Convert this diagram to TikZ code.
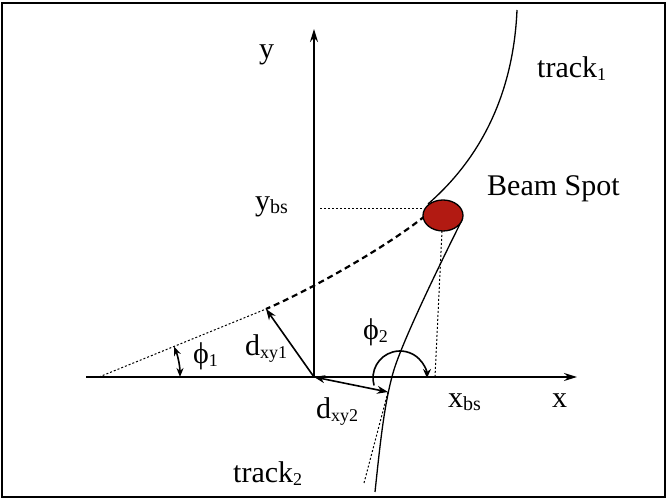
\documentclass[tikz,border=0pt]{standalone}
\usepackage{fontspec}
\setmainfont{Liberation Serif}
\usetikzlibrary{arrows.meta,shapes.geometric}
\definecolor{spotred}{RGB}{178,26,18}
\newcommand{\sbs}[1]{\raisebox{-3pt}{\fontsize{20}{22}\selectfont #1}}
\newcommand{\sbn}[1]{\raisebox{-3pt}{\fontsize{18}{20}\selectfont #1}}
\begin{document}
\begin{tikzpicture}[x=1pt,y=1pt,
  axis/.style={line width=1.7pt,-{Stealth[length=13pt,width=8pt]}},
  trk/.style={line width=1.3pt},
  dsh/.style={line width=2.2pt, dash pattern=on 6pt off 4pt},
  dot/.style={line width=1pt, dash pattern=on 2pt off 2pt},
  vec/.style={line width=1.6pt,-{Stealth[length=11pt,width=8pt]}},
  angarr/.style={line width=1.6pt},
  txt/.style={anchor=base west, inner sep=0pt, font=\fontsize{30}{34}\selectfont}]
\useasboundingbox (0,0) rectangle (667,500);
\draw[line width=1.2pt] (2,3) rectangle (665,497);
% coordinates
\coordinate (O) at (314,123);
\coordinate (xs) at (86,123);
\coordinate (xe) at (577,123);
\coordinate (ye) at (314,471);
\coordinate (T1) at (99,123);
\coordinate (P1) at (266,191);
\coordinate (P2) at (388,108);
\coordinate (T2) at (364,17);
\coordinate (A1) at (517,490);
\coordinate (B1) at (428,296);
\coordinate (C1) at (425,284);
\coordinate (A2) at (375,8);
\coordinate (M2) at (393,127);
\coordinate (E2) at (462,280);
% track 1
\draw[trk] (A1) .. controls (514,420) and (490,350) .. (B1);
\draw[dsh] (C1) .. controls (385,252) and (310,210) .. (P1);
% track 2
\draw[trk] (A2) .. controls (380,55) and (384,95) .. (M2) .. controls (402,159) and (445,246) .. (E2);
% tangents
\draw[dot] (T1) -- (P1);
\draw[dot] (T2) -- (P2);
% axes
\draw[axis] (xs) -- (xe);
\draw[axis] (O) -- (ye);
% beam spot projections
\draw[dot] (320,291) -- (424,291);
\draw[dot] (442,269) -- (435,123);
% beam spot
\node[draw, line width=1.3pt, fill=spotred, ellipse, minimum width=40pt, minimum height=31pt, inner sep=0pt] (bs) at (443,284.5) {};
% impact parameters
\draw[vec] (O) -- (P1);
\draw[line width=1.6pt,{Stealth[length=11pt,width=8pt]}-{Stealth[length=11pt,width=8pt]}] (O) -- (P2);
% angles
\draw[angarr,{Stealth[length=9pt,width=7pt]}-{Stealth[length=9pt,width=7pt]}] (180,123) arc[start angle=0,end angle=22,radius=81];
\draw[angarr,-{Stealth[length=9pt,width=8pt]}] (374.05,114.56) arc[start angle=196,end angle=0,radius=27];
% labels
\node[txt] (ylab) at (259,441) {y};
\node[txt] (xlab) at (552,92) {x};
\node[txt] (ybs) at (255,289) {y\sbs{bs}};
\node[txt] (xbs) at (448,92) {x\sbs{bs}};
\node[txt] (d1) at (245,144) {d\sbn{xy1}};
\node[txt] (d2) at (316,81) {d\sbn{xy2}};
\node[txt] (ph1) at (193,136) {ϕ\sbn{1}};
\node[txt] (ph2) at (363,160) {ϕ\sbn{2}};
\node[txt] (t1) at (537,422) {track\sbn{1}};
\node[txt] (t2) at (233,17) {track\sbn{2}};
\node[txt] (beam) at (487,304) {Beam Spot};
\end{tikzpicture}
\end{document}
